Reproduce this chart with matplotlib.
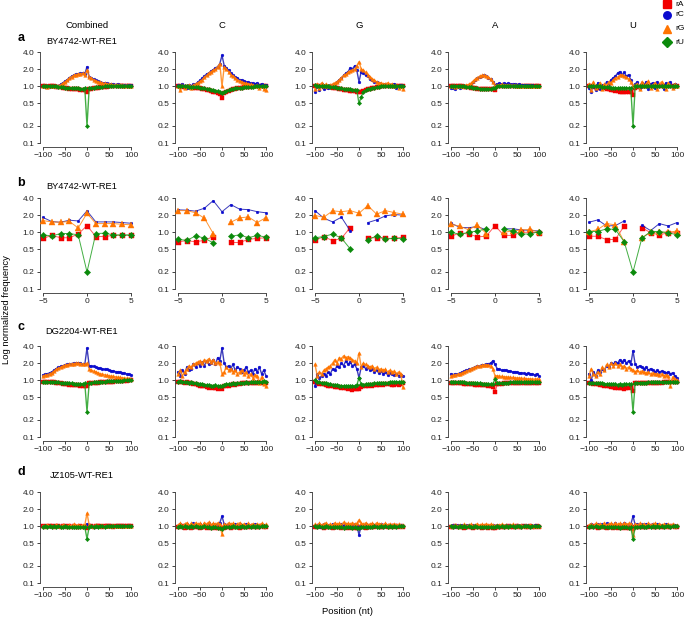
import numpy as np
import matplotlib
matplotlib.use('Agg')
import matplotlib.pyplot as plt
from matplotlib.lines import Line2D

plt.rcParams['font.family'] = ['Liberation Sans', 'DejaVu Sans']
nan = np.nan

# ---------------- data ----------------
pos_wide = list(range(-100, 101, 5))
pos_near = list(range(-5, 6))
columns = ["Combined", "C", "G", "A", "U"]
row_letters = ["a", "b", "c", "d"]
row_titles = ["BY4742-WT-RE1", "BY4742-WT-RE1", "DG2204-WT-RE1", "JZ105-WT-RE1"]
series_names = ["rA", "rC", "rG", "rU"]
y_ticks = [0.1, 0.2, 0.5, 1.0, 2.0, 4.0]
y_tick_labels = ["0.1", "0.2", "0.5", "1.0", "2.0", "4.0"]
x_ticks_wide = [-100, -50, 0, 50, 100]
x_ticks_near = [-5, 0, 5]

# row a
aCo_rA = [1.0,1.0,0.98,1.0,0.99,1.0,0.98,0.98,0.97,0.95,0.93,0.92,0.9,0.9,0.89,0.88,0.88,0.87,0.86,0.85,0.8,0.88,0.9,0.92,0.93,0.95,0.96,0.97,0.98,0.98,0.99,1.0,1.0,1.0,0.99,1.0,1.0,1.0,1.0,1.0,1.0]
aCo_rC = [1.0,0.97,1.0,0.98,1.02,1.0,0.98,1.03,1.08,1.15,1.22,1.3,1.4,1.5,1.56,1.62,1.66,1.68,1.7,1.65,2.2,1.45,1.38,1.32,1.27,1.22,1.18,1.15,1.14,1.12,1.1,1.1,1.08,1.07,1.08,1.06,1.07,1.05,1.06,1.04,1.05]
aCo_rG = [1.0,1.0,0.98,1.0,1.0,1.02,1.0,1.02,1.06,1.12,1.2,1.28,1.38,1.48,1.55,1.6,1.64,1.66,1.68,1.6,1.9,1.45,1.38,1.3,1.26,1.2,1.17,1.14,1.12,1.1,1.08,1.08,1.06,1.05,1.06,1.04,1.05,1.03,1.04,1.02,1.03]
aCo_rU = [1.0,1.0,0.99,1.0,1.0,0.99,1.0,0.98,0.97,0.96,0.95,0.94,0.93,0.93,0.92,0.92,0.92,0.91,0.91,0.92,0.2,0.93,0.94,0.95,0.96,0.97,0.98,0.98,0.99,0.99,1.0,1.0,1.0,1.0,1.0,1.0,1.0,1.0,1.0,1.0,1.0]

aC_rA = [1.0,1.0,0.98,0.98,0.97,0.97,0.96,0.95,0.95,0.93,0.92,0.9,0.88,0.87,0.85,0.83,0.8,0.78,0.76,0.72,0.63,0.75,0.8,0.84,0.86,0.88,0.9,0.92,0.94,0.95,0.96,0.97,0.98,0.98,0.99,1.0,1.0,1.0,1.0,1.0,1.0]
aC_rC = [1.05,1.0,1.1,1.02,0.95,1.05,1.0,1.08,1.1,1.18,1.27,1.38,1.5,1.65,1.7,1.85,1.95,2.1,2.2,2.5,3.5,2.3,2.1,1.9,1.7,1.55,1.45,1.4,1.3,1.28,1.24,1.2,1.18,1.15,1.12,1.1,1.15,1.05,1.1,1.02,1.05]
aC_rG = [1.0,0.85,1.05,0.95,1.0,1.05,0.95,1.05,1.1,1.15,1.22,1.3,1.45,1.55,1.7,1.8,1.9,2.0,2.2,2.5,1.0,2.2,2.0,1.8,1.6,1.5,1.4,1.3,1.25,1.2,1.15,1.12,1.1,1.08,1.05,1.0,1.05,0.95,1.0,0.9,0.85]
aC_rU = [1.0,1.0,1.0,0.99,0.99,0.98,0.98,0.97,0.97,0.96,0.95,0.93,0.92,0.9,0.89,0.87,0.86,0.84,0.82,0.8,0.75,0.8,0.83,0.86,0.88,0.9,0.92,0.93,0.94,0.95,0.96,0.97,0.97,0.98,0.98,0.99,0.99,1.0,1.0,1.0,1.0]

aG_rA = [1.0,1.0,1.0,1.0,0.98,0.98,0.97,0.97,0.95,0.93,0.92,0.9,0.88,0.87,0.86,0.85,0.84,0.83,0.82,0.8,0.8,0.8,0.82,0.85,0.88,0.9,0.93,0.95,0.97,0.98,1.0,1.0,1.0,1.0,1.0,1.0,1.0,1.0,1.0,1.0,1.0]
aG_rC = [0.8,1.0,0.85,1.1,0.9,1.0,0.95,1.05,1.05,1.1,1.2,1.3,1.4,1.55,1.7,1.8,2.1,2.0,2.3,1.9,1.2,1.8,1.7,1.55,1.5,1.35,1.3,1.2,1.2,1.15,1.1,1.05,1.1,1.0,1.05,1.0,1.1,0.95,1.0,1.05,1.0]
aG_rG = [0.9,1.1,0.95,1.15,1.0,1.1,1.0,1.05,1.1,1.15,1.2,1.3,1.42,1.55,1.62,1.75,1.85,1.95,2.0,2.3,2.7,2.0,1.9,1.75,1.6,1.45,1.35,1.28,1.2,1.15,1.15,1.1,1.1,1.15,1.05,1.1,1.0,1.05,0.95,1.0,0.9]
aG_rU = [1.05,1.03,1.02,1.02,1.0,1.0,0.99,0.98,0.97,0.96,0.95,0.93,0.92,0.91,0.9,0.9,0.88,0.87,0.86,0.85,0.5,0.65,0.8,0.85,0.88,0.9,0.93,0.95,0.97,0.98,1.0,1.0,1.0,1.0,1.0,1.0,1.0,1.0,1.0,1.0,1.0]

aA_rA = [1.0,1.0,0.99,1.0,0.99,0.99,0.98,0.97,0.96,0.95,0.93,0.92,0.9,0.9,0.89,0.88,0.88,0.88,0.89,0.9,0.85,1.0,1.0,1.0,1.0,1.0,1.0,1.0,1.0,1.0,1.0,1.0,1.0,1.0,1.0,1.0,1.0,1.0,1.0,1.0,1.0]
aA_rC = [0.92,0.95,0.9,0.97,0.95,1.0,1.0,1.02,1.05,1.1,1.2,1.3,1.4,1.48,1.52,1.55,1.5,1.42,1.32,1.18,1.05,1.1,1.12,1.1,1.12,1.1,1.12,1.1,1.08,1.1,1.07,1.08,1.05,1.06,1.05,1.04,1.03,1.04,1.02,1.03,1.0]
aA_rG = [1.0,1.0,0.98,1.02,1.0,1.03,1.02,1.05,1.08,1.12,1.22,1.32,1.42,1.5,1.55,1.55,1.52,1.45,1.35,1.2,1.0,1.05,1.05,1.08,1.05,1.06,1.05,1.05,1.04,1.04,1.03,1.03,1.02,1.02,1.02,1.0,1.01,1.0,1.0,1.0,1.0]
aA_rU = [1.0,1.0,1.0,1.0,1.0,0.99,0.99,0.98,0.97,0.96,0.95,0.93,0.92,0.91,0.9,0.9,0.9,0.9,0.91,0.92,0.95,1.0,1.0,1.0,1.0,1.0,1.0,1.0,1.0,1.0,1.0,1.0,1.0,1.0,1.0,1.0,1.0,1.0,1.0,1.0,1.0]

aU_rA = [1.0,1.0,0.98,0.98,0.97,0.95,0.95,0.92,0.9,0.88,0.86,0.85,0.83,0.82,0.8,0.8,0.8,0.8,0.8,0.78,0.7,0.95,0.97,0.98,1.0,1.0,1.0,1.0,1.0,1.0,1.0,1.0,1.0,1.0,1.0,1.0,1.0,1.0,1.0,1.0,1.0]
aU_rC = [0.95,0.8,1.1,0.85,1.15,0.9,1.05,1.0,1.2,1.1,1.3,1.4,1.5,1.7,1.8,1.6,1.75,1.5,1.6,1.3,1.0,1.1,1.2,0.95,1.15,1.05,1.2,0.9,1.1,1.15,0.95,1.2,1.0,1.1,0.9,1.15,1.05,1.2,0.95,1.1,1.0]
aU_rG = [1.1,0.85,1.2,0.95,1.0,1.15,0.9,1.1,1.05,1.2,1.15,1.3,1.4,1.45,1.55,1.6,1.5,1.45,1.35,1.2,1.0,1.05,1.1,0.9,1.2,1.0,1.1,1.25,0.95,1.05,1.15,0.9,1.1,1.2,1.0,0.9,1.15,1.05,0.95,1.1,1.0]
aU_rU = [1.0,1.0,1.0,1.0,0.99,0.99,0.98,0.98,0.97,0.96,0.95,0.95,0.94,0.94,0.93,0.93,0.93,0.93,0.93,0.92,0.2,1.0,1.0,1.0,1.0,1.0,1.0,1.0,1.0,1.0,1.0,1.0,1.0,1.0,1.0,1.0,1.0,1.0,1.0,1.0,1.0]

# row b
bCo_rA = [0.78,0.88,0.8,0.8,0.93,1.31,0.84,0.84,0.88,0.88,0.88]
bCo_rC = [1.82,1.54,1.5,1.63,1.58,2.38,1.52,1.52,1.52,1.48,1.44]
bCo_rG = [1.6,1.52,1.5,1.55,1.19,2.16,1.42,1.42,1.42,1.38,1.35]
bCo_rU = [0.9,0.86,0.95,0.95,0.9,0.2,0.95,0.96,0.9,0.9,0.9]

bC_rA = [0.68,0.71,0.68,0.72,0.84,nan,0.66,0.66,0.75,0.78,0.8]
bC_rC = [2.48,2.45,2.35,2.65,3.6,2.3,3.07,2.55,2.5,2.3,2.2]
bC_rG = [2.4,2.4,2.2,1.77,0.95,nan,1.5,1.79,1.86,1.48,1.81]
bC_rU = [0.75,0.72,0.86,0.79,0.65,nan,0.85,0.9,0.8,0.88,0.82]

bG_rA = [0.72,0.84,0.71,0.78,1.21,nan,0.8,0.8,0.78,0.78,0.82]
bG_rC = [2.4,1.77,1.52,1.84,1.06,nan,1.48,1.65,1.94,2.05,2.0]
bG_rG = [1.97,1.84,2.38,2.3,2.4,2.16,2.95,2.08,2.4,2.22,2.08]
bG_rU = [0.8,0.84,0.93,0.79,0.51,nan,0.74,0.86,0.76,0.78,0.77]

bA_rA = [0.85,0.97,0.93,0.83,0.85,1.31,0.88,0.88,1.0,1.0,0.98]
bA_rC = [1.44,1.22,1.2,1.26,1.1,nan,1.15,1.15,1.1,1.08,1.05]
bA_rG = [1.38,1.28,1.1,1.35,0.95,nan,1.0,1.05,1.1,1.12,1.0]
bA_rU = [1.0,0.92,1.0,1.05,1.15,nan,1.15,1.05,0.93,0.93,1.03]

bU_rA = [0.85,0.85,0.74,0.75,1.29,nan,1.21,0.98,0.9,0.98,0.98]
bU_rC = [1.5,1.65,1.29,1.31,1.58,nan,1.33,1.07,1.42,1.29,1.48]
bU_rG = [1.02,1.12,1.42,1.35,0.68,nan,0.8,1.0,1.0,1.0,1.05]
bU_rU = [1.03,1.03,1.15,1.12,0.68,0.2,0.78,1.03,1.03,0.98,0.9]

# row c
cCo_rA = [0.95,0.95,0.94,0.93,0.92,0.92,0.9,0.9,0.88,0.87,0.85,0.85,0.84,0.83,0.82,0.82,0.81,0.8,0.8,0.8,0.78,0.88,0.89,0.9,0.9,0.91,0.92,0.92,0.93,0.94,0.94,0.95,0.95,0.96,0.96,0.97,0.97,0.98,0.98,0.99,1.0]
cCo_rC = [1.25,1.28,1.3,1.35,1.4,1.5,1.6,1.68,1.75,1.8,1.85,1.9,1.95,1.97,2.0,2.0,2.0,1.98,1.95,1.9,3.7,1.8,1.78,1.75,1.7,1.65,1.62,1.6,1.55,1.55,1.5,1.48,1.45,1.42,1.4,1.38,1.35,1.32,1.3,1.28,1.25]
cCo_rG = [1.2,1.22,1.25,1.3,1.35,1.45,1.55,1.62,1.7,1.78,1.82,1.88,1.92,1.95,1.97,2.0,1.98,1.97,1.95,1.9,2.0,1.6,1.5,1.45,1.4,1.35,1.3,1.28,1.25,1.22,1.2,1.18,1.17,1.15,1.13,1.12,1.1,1.1,1.08,1.07,1.05]
cCo_rU = [0.95,0.95,0.95,0.94,0.94,0.93,0.93,0.92,0.91,0.9,0.9,0.89,0.88,0.88,0.87,0.87,0.86,0.86,0.87,0.88,0.28,0.9,0.91,0.92,0.93,0.94,0.95,0.95,0.95,0.96,0.96,0.97,0.97,0.97,0.98,0.98,0.98,0.99,0.99,1.0,1.0]

cC_rA = [0.95,0.92,0.95,0.9,0.92,0.9,0.88,0.85,0.87,0.82,0.8,0.8,0.78,0.75,0.74,0.76,0.72,0.72,0.7,0.72,0.7,0.78,0.8,0.8,0.82,0.85,0.84,0.86,0.86,0.88,0.88,0.9,0.89,0.9,0.9,0.88,0.9,0.92,0.9,0.88,0.9]
cC_rC = [1.4,1.2,1.5,1.3,1.7,1.5,1.6,1.9,1.7,2.0,1.8,2.1,1.8,2.2,1.9,2.0,2.3,1.9,2.5,2.2,3.7,2.0,1.7,1.8,1.6,1.9,1.5,1.7,1.6,1.4,1.5,1.7,1.4,1.5,1.3,1.6,1.4,1.7,1.3,1.5,1.2]
cC_rG = [1.3,1.5,1.2,1.4,1.6,1.8,1.7,1.9,2.0,2.1,2.2,2.0,2.3,2.2,2.4,2.1,2.3,2.0,2.1,2.0,1.3,1.4,1.7,1.5,1.6,1.4,1.5,1.3,1.4,1.5,1.3,1.4,1.2,1.3,1.1,1.25,1.2,0.9,1.15,0.85,0.8]
cC_rU = [0.95,0.97,0.93,0.95,0.92,0.9,0.92,0.88,0.9,0.87,0.86,0.85,0.84,0.83,0.82,0.8,0.8,0.82,0.8,0.8,0.8,0.84,0.85,0.86,0.86,0.88,0.87,0.9,0.9,0.89,0.9,0.92,0.9,0.93,0.92,0.94,0.93,0.95,0.94,0.96,0.95]

cG_rA = [0.95,0.88,0.85,0.87,0.85,0.82,0.8,0.8,0.78,0.76,0.75,0.75,0.73,0.73,0.72,0.7,0.72,0.68,0.7,0.7,0.7,0.75,0.8,0.78,0.8,0.82,0.8,0.82,0.84,0.82,0.85,0.84,0.85,0.86,0.85,0.84,0.82,0.85,0.82,0.86,0.9]
cG_rC = [0.8,1.3,1.1,1.2,1.3,1.2,1.4,1.3,1.6,1.5,1.8,1.7,2.0,1.8,2.2,1.9,2.1,1.8,1.9,1.6,1.1,1.7,1.8,1.6,1.7,1.5,1.6,1.4,1.5,1.35,1.45,1.3,1.4,1.25,1.35,1.3,1.25,1.3,1.2,1.25,1.2]
cG_rG = [1.9,1.2,1.4,1.3,1.5,1.6,1.7,1.8,2.0,2.3,2.0,2.5,2.4,2.7,2.5,2.6,2.5,2.3,2.2,2.0,3.0,1.7,2.0,1.9,1.8,1.7,1.8,1.6,1.7,1.5,1.6,1.5,1.55,1.4,1.5,1.4,1.45,1.3,1.4,1.3,0.75]
cG_rU = [1.0,0.95,0.92,0.9,0.88,0.88,0.86,0.85,0.84,0.83,0.82,0.8,0.8,0.8,0.8,0.8,0.78,0.8,0.8,0.82,1.1,0.85,0.84,0.85,0.86,0.86,0.87,0.88,0.88,0.89,0.9,0.9,0.9,0.91,0.92,0.92,0.93,0.93,0.94,0.95,0.95]

cA_rA = [0.9,0.9,0.89,0.9,0.88,0.88,0.87,0.86,0.86,0.85,0.85,0.84,0.84,0.83,0.83,0.82,0.82,0.8,0.78,0.75,0.63,0.85,0.86,0.87,0.88,0.88,0.89,0.9,0.9,0.9,0.9,0.9,0.9,0.9,0.9,0.9,0.9,0.9,0.9,0.9,0.9]
cA_rC = [1.3,1.25,1.3,1.28,1.32,1.4,1.45,1.5,1.55,1.6,1.65,1.7,1.75,1.8,1.85,1.88,1.9,1.95,2.0,2.2,1.9,1.6,1.55,1.5,1.5,1.5,1.45,1.45,1.4,1.42,1.38,1.35,1.35,1.33,1.3,1.32,1.3,1.28,1.25,1.3,1.2]
cA_rG = [1.2,1.22,1.25,1.27,1.3,1.35,1.4,1.45,1.5,1.6,1.65,1.7,1.75,1.8,1.82,1.85,1.88,1.85,1.8,1.6,1.2,1.2,1.18,1.17,1.15,1.15,1.14,1.12,1.12,1.1,1.1,1.1,1.08,1.08,1.07,1.06,1.06,1.05,1.05,1.05,1.05]
cA_rU = [0.95,0.95,0.94,0.94,0.93,0.93,0.92,0.91,0.91,0.9,0.9,0.89,0.88,0.88,0.87,0.86,0.86,0.85,0.85,0.86,1.05,0.9,0.9,0.9,0.91,0.91,0.91,0.92,0.92,0.92,0.92,0.93,0.93,0.93,0.94,0.94,0.94,0.95,0.95,0.95,0.95]

cU_rA = [0.9,0.88,0.87,0.86,0.85,0.83,0.82,0.8,0.8,0.78,0.76,0.75,0.74,0.73,0.72,0.72,0.7,0.72,0.74,0.75,0.65,0.9,0.88,0.89,0.88,0.9,0.89,0.9,0.9,0.88,0.9,0.9,0.91,0.9,0.92,0.92,0.93,0.93,0.94,0.94,0.95]
cU_rC = [1.3,1.0,1.4,1.2,1.5,1.4,1.6,1.5,1.8,1.7,2.0,1.9,2.1,2.0,2.3,2.1,2.3,2.0,2.2,1.9,3.3,1.9,1.7,1.8,1.7,1.6,1.7,1.5,1.6,1.5,1.4,1.5,1.4,1.45,1.4,1.35,1.4,1.3,1.35,1.2,1.1]
cU_rG = [1.2,1.6,1.3,1.2,1.4,1.3,1.7,1.5,1.9,1.7,2.0,1.8,2.0,1.8,1.9,1.7,1.8,1.6,1.7,1.6,1.5,1.4,1.5,1.4,1.45,1.4,1.35,1.4,1.3,1.35,1.3,1.3,1.25,1.3,1.2,1.25,1.2,0.8,1.15,1.05,1.0]
cU_rU = [0.9,0.9,0.89,0.89,0.88,0.88,0.88,0.87,0.86,0.86,0.85,0.85,0.85,0.84,0.85,0.84,0.85,0.85,0.86,0.86,0.28,0.9,0.9,0.9,0.91,0.91,0.91,0.92,0.92,0.92,0.93,0.92,0.93,0.93,0.94,0.94,0.94,0.95,0.95,0.95,0.95]

# row d
dCo_rA = [1.0,0.98,1.0,0.99,1.0,0.98,1.0,0.99,0.98,1.0,0.99,0.98,1.0,0.98,0.99,0.98,0.98,0.99,0.98,0.97,0.95,0.99,1.0,0.98,1.0,0.99,1.0,0.98,1.0,0.99,1.0,1.0,0.98,1.0,0.99,1.0,1.0,0.99,1.0,1.0,1.0]
dCo_rC = [1.0,1.02,1.0,0.98,1.0,1.02,1.0,1.0,1.02,1.0,0.98,1.0,1.02,1.0,1.0,0.98,1.02,1.0,1.0,1.02,1.1,1.0,1.02,1.0,0.98,1.0,1.0,1.02,1.0,1.0,0.98,1.0,1.02,1.0,1.0,1.0,0.98,1.02,1.0,1.0,1.0]
dCo_rG = [1.02,1.0,1.05,1.0,1.03,1.0,1.05,1.02,1.0,1.05,1.03,1.0,1.05,1.02,1.08,1.03,1.05,1.02,1.05,1.05,1.7,1.05,1.03,1.0,1.05,1.02,1.0,1.04,1.0,1.03,1.0,1.02,1.05,1.0,1.02,1.0,1.03,1.0,1.02,1.0,1.0]
dCo_rU = [0.98,0.99,0.98,1.0,0.98,0.99,0.98,0.99,0.98,0.98,0.99,0.98,0.98,0.97,0.98,0.98,0.97,0.98,0.98,0.97,0.6,0.98,0.99,0.98,0.99,0.98,0.99,0.99,0.98,0.99,0.99,0.99,1.0,0.99,0.99,1.0,0.99,1.0,0.99,1.0,1.0]

dC_rA = [0.98,0.96,0.99,0.95,0.97,0.98,0.95,0.97,0.96,0.98,0.95,0.97,0.96,0.94,0.97,0.95,0.96,0.94,0.95,0.93,0.92,0.95,0.96,0.97,0.95,0.98,0.96,0.97,0.95,0.98,0.97,0.96,0.98,0.97,0.99,0.96,0.98,0.97,0.99,0.98,0.98]
dC_rC = [1.02,1.08,0.98,1.05,1.1,1.0,1.06,1.12,1.0,1.05,1.08,0.97,1.1,1.04,1.12,1.0,1.08,1.05,1.1,1.15,1.5,1.08,1.05,1.1,1.0,1.06,1.1,1.02,1.08,1.0,1.05,1.09,1.0,1.06,1.02,1.08,1.0,1.05,1.03,1.07,1.02]
dC_rG = [1.05,1.12,1.0,1.1,1.15,1.02,1.12,1.05,1.15,1.08,1.12,1.0,1.15,1.1,1.18,1.05,1.12,1.08,1.15,1.1,0.72,1.1,1.05,1.15,1.08,1.12,1.0,1.1,1.15,1.05,1.1,1.0,1.12,1.05,1.1,1.02,1.1,1.05,1.12,1.0,1.08]
dC_rU = [0.98,1.0,0.97,0.99,0.96,0.98,1.0,0.97,0.99,0.96,0.98,0.97,0.99,0.96,0.97,0.95,0.97,0.96,0.95,0.94,0.9,0.96,0.97,0.98,0.96,0.99,0.97,0.98,0.97,1.0,0.98,0.97,0.99,0.98,1.0,0.97,0.99,0.98,1.0,0.99,0.99]

dG_rA = [0.98,0.96,0.99,0.97,0.95,0.98,0.96,0.98,0.95,0.97,0.96,0.98,0.95,0.97,0.94,0.96,0.95,0.97,0.95,0.94,0.95,0.96,0.97,0.95,0.98,0.96,0.98,0.97,0.99,0.96,0.98,0.97,0.99,0.98,0.96,0.99,0.98,0.99,0.97,0.99,0.98]
dG_rC = [1.0,1.06,0.97,1.04,1.08,1.0,1.05,0.98,1.1,1.02,1.06,1.0,1.08,1.03,1.1,1.0,1.06,1.02,1.08,1.05,0.7,1.05,1.02,1.08,1.0,1.05,1.1,1.0,1.05,1.02,1.08,1.0,1.04,1.06,1.0,1.05,1.02,1.07,1.0,1.04,1.0]
dG_rG = [1.08,1.02,1.12,1.05,1.1,1.15,1.03,1.1,1.05,1.15,1.08,1.12,1.05,1.18,1.1,1.12,1.08,1.15,1.1,1.12,1.3,1.12,1.08,1.15,1.05,1.1,1.12,1.05,1.15,1.08,1.1,1.05,1.12,1.06,1.1,1.04,1.1,1.05,1.08,1.03,1.05]
dG_rU = [0.99,0.97,1.0,0.98,0.96,0.99,0.97,0.98,0.96,0.98,0.97,0.96,0.98,0.95,0.97,0.96,0.97,0.95,0.96,0.95,0.92,0.96,0.97,0.98,0.96,0.98,0.97,0.99,0.97,0.98,0.99,0.97,0.99,0.98,1.0,0.98,0.99,0.98,1.0,0.99,0.99]

dA_rA = [0.98,0.96,0.99,0.97,0.96,0.98,0.95,0.98,0.96,0.97,0.95,0.98,0.96,0.97,0.95,0.96,0.97,0.95,0.96,0.95,0.93,0.97,0.98,0.96,0.98,0.97,0.99,0.96,0.98,0.97,0.99,0.98,0.97,0.99,0.98,0.96,0.99,0.98,0.97,0.99,0.98]
dA_rC = [1.0,1.04,0.98,1.05,1.02,1.06,1.0,1.04,1.07,1.0,1.05,1.02,1.06,1.0,1.05,1.03,1.07,1.02,1.05,1.04,1.02,1.05,1.02,1.06,1.0,1.04,1.02,1.06,1.0,1.03,1.05,1.0,1.04,1.02,1.05,1.0,1.03,1.01,1.04,1.0,1.02]
dA_rG = [1.03,1.0,1.06,1.02,1.05,1.0,1.08,1.03,1.05,1.08,1.02,1.06,1.1,1.04,1.08,1.05,1.1,1.06,1.08,1.05,1.02,1.06,1.04,1.08,1.03,1.06,1.02,1.05,1.08,1.02,1.05,1.03,1.06,1.0,1.04,1.02,1.05,1.0,1.03,1.02,1.02]
dA_rU = [0.99,0.98,1.0,0.97,0.99,0.98,1.0,0.97,0.99,0.98,0.97,0.99,0.97,0.98,0.96,0.98,0.97,0.98,0.96,0.97,0.98,0.99,0.98,1.0,0.98,0.99,0.98,1.0,0.99,0.98,1.0,0.99,0.98,1.0,0.99,1.0,0.98,1.0,0.99,1.0,0.99]

dU_rA = [0.98,0.96,0.99,0.97,0.95,0.98,0.96,0.97,0.95,0.98,0.96,0.95,0.97,0.95,0.96,0.94,0.96,0.95,0.94,0.93,0.88,0.96,0.97,0.96,0.98,0.96,0.98,0.97,0.99,0.97,0.98,0.96,0.99,0.98,0.97,0.99,0.98,0.97,0.99,0.98,0.98]
dU_rC = [1.02,1.08,0.98,1.06,1.1,1.0,1.08,1.03,1.12,1.0,1.08,1.05,1.12,1.02,1.1,1.06,1.12,1.04,1.1,1.08,1.5,1.06,1.1,1.02,1.08,1.04,1.1,1.0,1.06,1.08,1.02,1.1,1.04,1.06,1.0,1.08,1.03,1.06,1.0,1.05,1.02]
dU_rG = [1.05,1.1,1.0,1.12,1.06,1.1,1.02,1.15,1.05,1.1,1.12,1.04,1.15,1.08,1.12,1.05,1.14,1.08,1.12,1.1,0.7,1.1,1.05,1.12,1.06,1.1,1.02,1.12,1.05,1.08,1.12,1.02,1.1,1.05,1.08,1.02,1.1,1.04,1.08,1.0,1.05]
dU_rU = [0.98,0.99,0.97,1.0,0.98,0.96,0.99,0.97,0.98,0.96,0.98,0.97,0.96,0.98,0.95,0.97,0.96,0.97,0.95,0.96,0.6,0.97,0.98,0.97,0.99,0.97,0.98,0.99,0.97,0.99,0.98,1.0,0.98,0.99,0.98,1.0,0.99,0.98,1.0,0.99,0.99]

# ---------------- assembling ----------------
panels = [
    [(aCo_rA, aCo_rC, aCo_rG, aCo_rU), (aC_rA, aC_rC, aC_rG, aC_rU), (aG_rA, aG_rC, aG_rG, aG_rU),
     (aA_rA, aA_rC, aA_rG, aA_rU), (aU_rA, aU_rC, aU_rG, aU_rU)],
    [(bCo_rA, bCo_rC, bCo_rG, bCo_rU), (bC_rA, bC_rC, bC_rG, bC_rU), (bG_rA, bG_rC, bG_rG, bG_rU),
     (bA_rA, bA_rC, bA_rG, bA_rU), (bU_rA, bU_rC, bU_rG, bU_rU)],
    [(cCo_rA, cCo_rC, cCo_rG, cCo_rU), (cC_rA, cC_rC, cC_rG, cC_rU), (cG_rA, cG_rC, cG_rG, cG_rU),
     (cA_rA, cA_rC, cA_rG, cA_rU), (cU_rA, cU_rC, cU_rG, cU_rU)],
    [(dCo_rA, dCo_rC, dCo_rG, dCo_rU), (dC_rA, dC_rC, dC_rG, dC_rU), (dG_rA, dG_rC, dG_rG, dG_rU),
     (dA_rA, dA_rC, dA_rG, dA_rU), (dU_rA, dU_rC, dU_rG, dU_rU)],
]

marker_colors = ['#F20000', '#0A0ACF', '#FF7400', '#0B8A0B']
line_colors = ['#FF4040', '#1A1AB0', '#FF8515', '#22A022']
markers = ['s', 'o', '^', 'D']
ms_dense = [2.3, 2.0, 2.6, 2.2]
ms_near = [3.6, 1.9, 4.2, 3.2]

W, H = 685, 619
fig = plt.figure(figsize=(W / 100, H / 100), dpi=100)

col_left = [39.5, 174.5, 311.5, 447.5, 585.5]
row_top = [48.4, 194.4, 342.4, 488.4]
ax_w, ax_h = 95.0, 98.3
ylo = 10 ** (-1 - 0.064)
yhi = 10 ** (np.log10(4.0) + 0.064)

def fx(x):
    return x / W

def fy(y):
    return 1 - y / H

for r in range(4):
    for c in range(5):
        ax = fig.add_axes([fx(col_left[c]), fy(row_top[r] + ax_h), ax_w / W, ax_h / H])
        near = (r == 1)
        xs = pos_near if near else pos_wide
        for k in range(4):
            ys = np.array(panels[r][c][k], dtype=float)
            ax.plot(xs, ys, '-', color=line_colors[k], lw=0.7 if near else 1.0,
                    alpha=0.85, zorder=2 + k)
            ax.plot(xs, ys, ls='none', marker=markers[k],
                    ms=(ms_near if near else ms_dense)[k],
                    color=marker_colors[k], mec=marker_colors[k], mew=0.3, zorder=2 + k)
        ax.set_yscale('log')
        ax.set_ylim(ylo, yhi)
        if near:
            ax.set_xlim(-5.4, 5.4)
            ax.set_xticks(x_ticks_near)
            ax.spines['bottom'].set_bounds(-5, 5)
        else:
            ax.set_xlim(-108, 108)
            ax.set_xticks(x_ticks_wide)
            ax.spines['bottom'].set_bounds(-100, 100)
        ax.set_yticks(y_ticks)
        ax.set_yticklabels(y_tick_labels)
        ax.yaxis.set_minor_locator(matplotlib.ticker.NullLocator())
        ax.spines['left'].set_bounds(0.1, 4.0)
        ax.spines['top'].set_visible(False)
        ax.spines['right'].set_visible(False)
        for s in ('left', 'bottom'):
            ax.spines[s].set_linewidth(0.6)
            ax.spines[s].set_color('#333333')
        ax.tick_params(axis='both', length=2.4, width=0.6, pad=1.5, labelsize=6.0,
                       colors='#222222')
        ax.patch.set_alpha(0)

# column headers
for c, name in enumerate(columns):
    fig.text(fx(col_left[c] + ax_w / 2), fy(26), name, ha='center', va='center', fontsize=6.8)

# row letters and titles
letter_y = [38, 183, 327, 472]
title_y = [42, 187, 331, 476]
for r in range(4):
    fig.text(fx(21), fy(letter_y[r]), row_letters[r], ha='center', va='center',
             fontsize=9, fontweight='bold')
    fig.text(fx(82), fy(title_y[r]), row_titles[r], ha='center', va='center', fontsize=6.7)

fig.text(fx(7), fy(310), 'Log normalized frequency', rotation=90, ha='center', va='center',
         fontsize=6.8)
fig.text(fx(347), fy(612), 'Position (nt)', ha='center', va='center', fontsize=6.8)

# legend
leg_y = [4, 15, 29, 42]
for k in range(4):
    fig.add_artist(Line2D([fx(667)], [fy(leg_y[k])], marker=markers[k], ls='none',
                          ms=5.4 if k != 3 else 4.8, color=marker_colors[k],
                          transform=fig.transFigure))
    fig.text(fx(675), fy(leg_y[k]), series_names[k], ha='left', va='center', fontsize=6.0)

fig.savefig('out.png', dpi=100)
